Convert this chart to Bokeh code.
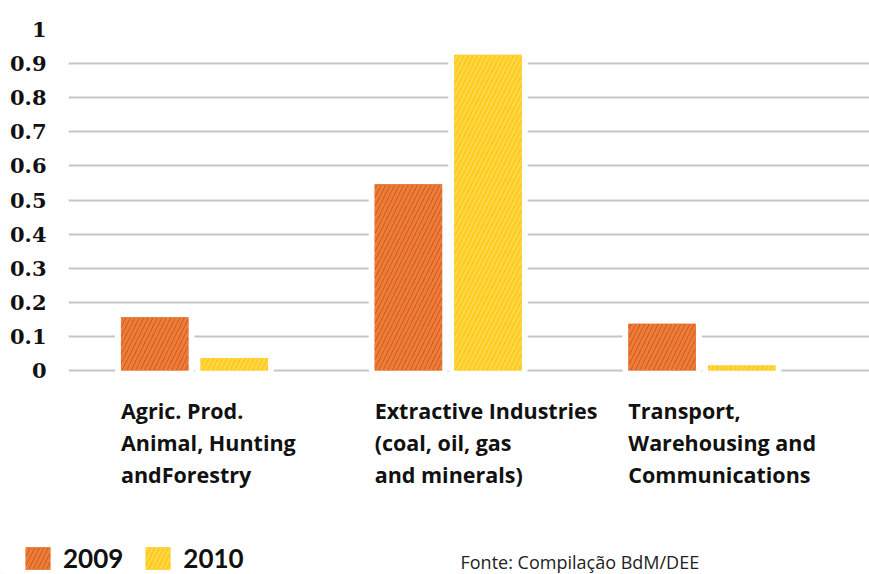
from bokeh.plotting import figure
from bokeh.models import ColumnDataSource, Range1d, Label, Legend, LegendItem
from bokeh.layouts import column, row
from bokeh.transform import dodge
from bokeh.embed import file_html
from bokeh.resources import INLINE

# ---- data ----
categories = [
    "Agric. Prod.\nAnimal, Hunting\nandForestry",
    "Extractive Industries\n(coal, oil, gas\nand minerals)",
    "Transport,\nWarehousing and\nCommunications",
]
series_names = ["2009", "2010"]
values_2009 = [0.156, 0.546, 0.137]
values_2010 = [0.037, 0.926, 0.015]
y_ticks = [0, 0.1, 0.2, 0.3, 0.4, 0.5, 0.6, 0.7, 0.8, 0.9, 1]
source_note = "Fonte: Compilação BdM/DEE"

# ---- styling ----
ORANGE, ORANGE_H = "#de5818", "#e97f3b"
YELLOW, YELLOW_H = "#ffc500", "#ffd545"
PX = 253.7           # pixels per category unit
YPX = 341.0          # pixels per y unit
DODGE = 39.8 / PX
BAR_W = 67.5 / PX
GAP_W = BAR_W + 6 / PX
HATCH = dict(hatch_pattern="/", hatch_scale=9, hatch_weight=3)

src = ColumnDataSource(dict(x=list(range(len(categories))),
                            v2009=values_2009, v2010=values_2010))

p = figure(width=869, height=530, output_backend="svg", toolbar_location=None,
           x_range=Range1d(-126 / PX, 675 / PX), y_range=Range1d(-160 / YPX, 1),
           x_axis_location=None, min_border_left=68, min_border_right=0,
           min_border_top=29, min_border_bottom=0)
p.outline_line_color = None
p.xgrid.grid_line_color = None
p.ygrid.grid_line_color = "#c6c6c6"
p.ygrid.grid_line_width = 2
p.ygrid.ticker = y_ticks

yax = p.yaxis[0]
yax.ticker = y_ticks
yax.major_label_overrides = {t: f"{t:g}" for t in y_ticks}
yax.axis_line_color = None
yax.major_tick_line_color = None
yax.minor_tick_line_color = None
yax.major_label_standoff = 16
yax.major_label_text_font = "DejaVu Serif"
yax.major_label_text_font_style = "bold"
yax.major_label_text_font_size = "21px"
yax.major_label_text_color = "#111111"

# white gaps behind bars (interrupt gridlines)
for off, col in ((-DODGE, "v2009"), (DODGE, "v2010")):
    p.vbar(x=dodge("x", off, range=p.x_range), top=col, width=GAP_W, source=src,
           fill_color="white", line_color="white", line_width=6)

p.vbar(x=dodge("x", -DODGE, range=p.x_range), top="v2009", width=BAR_W, source=src,
       fill_color=ORANGE, line_color=None, hatch_color=ORANGE_H, **HATCH)
p.vbar(x=dodge("x", DODGE, range=p.x_range), top="v2010", width=BAR_W, source=src,
       fill_color=YELLOW, line_color=None, hatch_color=YELLOW_H, **HATCH)

# category labels below the baseline
for i, cat in enumerate(categories):
    for j, line in enumerate(cat.split("\n")):
        p.add_layout(Label(x=i - DODGE - BAR_W / 2, y=-(40 + 32 * j) / YPX,
                           text=line, text_font="Open Sans", text_font_style="bold",
                           text_font_size="21.5px", text_color="#111111",
                           text_baseline="alphabetic", text_align="left"))

# ---- legend strip ----
q = figure(width=869, height=44, output_backend="svg", toolbar_location=None,
           x_range=Range1d(10, 879), y_range=Range1d(0, 44),
           x_axis_location=None, y_axis_location=None,
           min_border=0, min_border_left=0, min_border_right=0,
           min_border_top=0, min_border_bottom=0)
q.outline_line_color = None
q.grid.grid_line_color = None
l09 = q.vbar(x="x", top="v2009", width=0.5, source=src, fill_color=ORANGE,
             line_color=None, hatch_color=ORANGE_H, **HATCH)
l10 = q.vbar(x="x", top="v2010", width=0.5, source=src, fill_color=YELLOW,
             line_color=None, hatch_color=YELLOW_H, **HATCH)
legend = Legend(items=[LegendItem(label=series_names[0], renderers=[l09]),
                       LegendItem(label=series_names[1], renderers=[l10])],
                orientation="horizontal", location=(22, 0),
                glyph_width=31, glyph_height=28, label_height=28,
                label_standoff=10, spacing=19, padding=0, margin=0,
                border_line_color=None, background_fill_alpha=0,
                label_text_font="Lato", label_text_font_style="bold",
                label_text_font_size="26px", label_text_color="#111111")
q.add_layout(legend, "center")
q.add_layout(Label(x=470, y=13, text=source_note, text_font="Open Sans",
                   text_font_size="18px", text_color="#222222",
                   text_baseline="middle", text_align="left"))

layout = column(p, row(q), spacing=0)
open("out.html", "w").write(file_html(layout, INLINE))
